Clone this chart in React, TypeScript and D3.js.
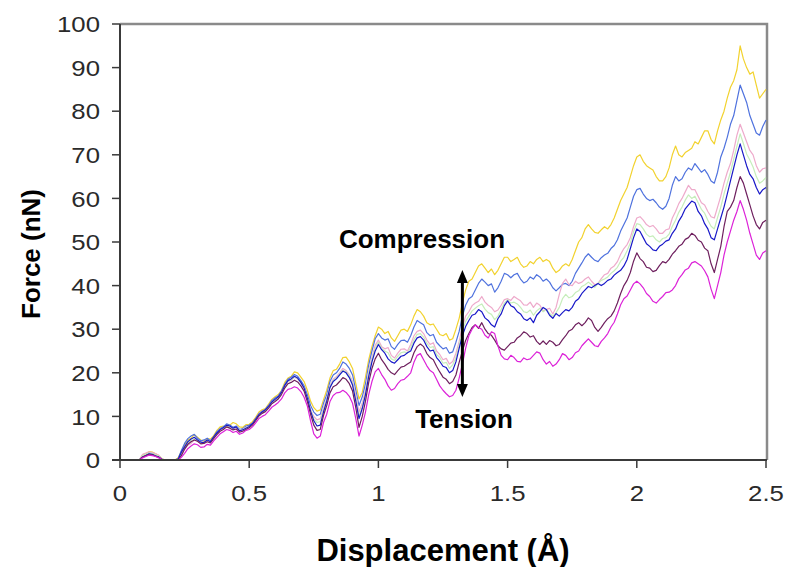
import React from "react";
import * as d3 from "d3";

// Displacement grid (Å): one sample every 0.0125 Å from 0 to 2.5
const displacement: number[] = d3.range(0, 201).map((i) => +(i * 0.0125).toFixed(4));

// Force (nN) for each run, sampled on the displacement grid
const forceGold = [
  0, 0, 0, 0, 0, 0, 0, 1.2, 1.5, 1.9, 1.8, 1.4, 1.0, 0.3, 0, 0, 0, 0, 0.5, 2.0,
  3.5, 4.6, 5.0, 5.8, 5.2, 4.6, 4.3, 4.9, 4.8, 5.6, 6.8, 7.6, 7.8, 7.5, 8.0, 8.6, 8.3, 7.6, 7.5, 8.1,
  8.2, 8.8, 9.8, 11.0, 11.5, 11.8, 12.8, 13.9, 14.5, 15.0, 16.0, 17.8, 18.8, 19.2, 20.2, 20.0, 19.0, 18.0, 16.0, 13.5,
  12.0, 11.2, 11.5, 13.8, 16.0, 18.8, 20.5, 20.8, 22.0, 23.5, 23.6, 22.5, 21.0, 17.5, 14.0, 15.5, 19.0, 23.0, 26.0, 28.5,
  30.5, 30.0, 29.0, 29.5, 28.0, 27.2, 28.5, 29.8, 30.0, 29.5, 31.0, 33.0, 34.5, 34.0, 33.0, 31.5, 31.0, 31.2, 30.0, 28.8,
  28.5, 29.0, 27.5, 27.8, 30.0, 32.5, 36.0, 39.0, 41.0, 41.5, 43.0, 44.5, 45.0, 44.0, 43.0, 43.8, 42.5, 43.5, 45.0, 46.5,
  46.5, 45.5, 46.0, 46.5, 45.0, 44.2, 44.5, 45.5, 45.0, 46.0, 46.5, 45.5, 46.0, 45.5, 44.0, 43.0, 43.5, 44.5, 45.0, 44.5,
  46.0, 48.0, 50.0, 51.0, 53.0, 54.0, 53.0, 52.2, 52.0, 52.8, 53.5, 53.0, 54.0, 55.5, 57.5, 59.5, 61.0, 62.5, 65.0, 67.5,
  69.5, 70.0, 68.5, 67.5, 67.0, 66.5, 65.0, 64.0, 64.0, 65.0, 67.0, 70.0, 72.0, 70.0, 69.5, 70.5, 71.0, 71.5, 73.0, 72.5,
  74.0, 75.5, 75.5, 73.5, 72.5, 75.5, 78.0, 80.0, 83.0, 85.5, 87.0, 89.5, 95.0, 92.0, 90.0, 88.5, 89.0, 86.0, 83.0, 84.0, 85.0,
];

const forceCornflower = [
  0, 0, 0, 0, 0, 0, 0, 0.9, 1.2, 1.6, 1.5, 1.1, 0.8, 0.2, 0, 0, 0, 0, 0.3, 2.2,
  3.8, 4.9, 5.5, 5.9, 5.0, 4.4, 4.6, 5.0, 4.4, 5.3, 6.5, 7.2, 7.6, 8.3, 8.0, 7.5, 7.8, 7.0, 7.2, 7.8,
  8.0, 8.4, 9.5, 10.6, 11.2, 11.6, 12.5, 13.6, 14.2, 14.7, 15.8, 17.3, 18.5, 19.0, 19.6, 19.2, 18.2, 17.0, 15.0, 12.5,
  11.0, 10.2, 10.5, 13.0, 15.0, 18.0, 19.5, 20.0, 21.0, 22.5, 22.0, 21.0, 19.5, 16.0, 12.5, 14.5, 17.5, 21.8, 25.0, 27.8,
  29.0, 28.0, 27.5, 27.8, 26.0, 25.4, 26.5, 27.4, 27.5, 27.0, 28.5, 30.5, 32.0, 31.5, 31.0, 29.2, 28.5, 28.8, 27.0, 26.2,
  25.5, 25.8, 24.5, 24.8, 27.0, 29.5, 33.0, 35.5, 37.0, 37.5, 39.0, 40.5, 41.5, 40.8, 40.0, 40.4, 38.5, 39.5, 41.0, 42.8,
  42.5, 41.8, 42.5, 42.8, 41.5, 40.6, 41.0, 42.0, 41.5, 42.5, 42.0, 41.0, 41.5, 40.8, 39.5, 38.8, 39.5, 40.3, 40.5, 40.0,
  41.0, 42.8, 44.0, 45.2, 46.5, 47.3, 46.5, 45.8, 45.5, 46.4, 47.0, 47.4, 48.5, 49.2, 50.5, 52.5, 54.0, 55.5, 58.0, 60.5,
  62.0, 62.3, 61.0, 60.0, 59.5, 59.8, 59.0, 58.0, 57.5, 58.2, 60.0, 63.0, 65.0, 64.0, 64.5, 66.0, 67.0, 66.5, 68.0, 67.0,
  66.0, 66.6, 65.5, 64.0, 63.5, 66.0, 69.5, 71.5, 74.0, 77.0, 79.0, 82.5, 86.0, 84.0, 82.0, 79.0, 77.0, 75.0, 74.5, 76.5, 78.0,
];

const forcePink = [
  0, 0, 0, 0, 0, 0, 0, 1.3, 1.6, 1.9, 1.7, 1.5, 1.1, 0.2, 0, 0, 0, 0, 0, 1.2,
  2.5, 3.4, 3.8, 4.6, 4.3, 3.8, 4.0, 4.4, 4.0, 5.1, 6.0, 6.9, 7.2, 7.9, 7.6, 7.2, 7.5, 6.8, 7.0, 7.5,
  7.6, 8.1, 9.2, 10.4, 11.0, 11.4, 12.2, 13.3, 13.8, 14.3, 15.4, 16.9, 18.0, 18.3, 19.0, 18.6, 17.6, 16.5, 14.0, 11.5,
  10.0, 9.2, 9.5, 12.0, 14.0, 17.0, 18.5, 19.1, 20.0, 21.0, 20.5, 19.6, 18.0, 14.8, 11.0, 13.0, 16.0, 20.5, 23.5, 26.3,
  27.5, 26.0, 25.5, 25.8, 24.0, 23.4, 24.5, 25.4, 25.5, 25.0, 26.5, 28.5, 29.5, 29.8, 29.0, 27.5, 26.5, 26.9, 25.0, 24.2,
  23.0, 23.3, 22.0, 22.6, 24.5, 27.2, 30.5, 33.0, 34.0, 35.4, 36.0, 36.4, 37.5, 36.2, 35.5, 35.0, 34.0, 34.4, 35.5, 36.8,
  37.0, 36.6, 37.5, 37.0, 36.5, 35.6, 35.5, 36.2, 35.0, 36.0, 35.5, 34.2, 34.5, 34.8, 33.5, 35.0, 38.0, 40.5, 41.5, 40.2,
  40.0, 41.0, 40.5, 40.8, 41.5, 42.0, 41.0, 40.2, 40.5, 41.6, 42.5, 42.8, 44.0, 44.5, 45.5, 47.2, 48.5, 49.4, 51.0, 53.5,
  55.5, 55.8, 55.0, 54.0, 53.5, 53.8, 53.0, 52.0, 52.0, 52.8, 53.0, 55.5, 57.0, 58.8, 60.0, 61.5, 63.0, 62.0, 62.0, 60.5,
  59.0, 58.5, 57.0, 55.8, 55.5, 58.0, 60.5, 63.5, 66.0, 68.0, 71.0, 74.5, 77.0, 75.0, 73.0, 71.0, 70.0, 67.5, 66.0, 66.8, 67.0,
];

const forceMint = [
  0, 0, 0, 0, 0, 0, 0, 1.0, 1.3, 1.6, 1.5, 1.2, 0.9, 0.2, 0, 0, 0, 0, 0, 1.4,
  2.8, 3.9, 4.4, 4.8, 4.5, 4.0, 4.0, 4.5, 4.1, 5.2, 6.1, 7.0, 7.3, 7.8, 7.7, 7.3, 7.5, 6.9, 7.0, 7.4,
  7.6, 8.2, 9.2, 10.3, 10.9, 11.3, 12.2, 13.2, 13.8, 14.4, 15.4, 17.0, 18.1, 18.4, 19.1, 18.7, 17.7, 16.6, 14.1, 11.4,
  9.4, 8.6, 8.8, 11.6, 13.8, 16.8, 18.2, 18.8, 19.7, 20.6, 20.2, 19.3, 17.6, 14.0, 10.0, 12.2, 15.5, 20.0, 23.0, 25.6,
  27.0, 25.6, 25.0, 24.6, 23.2, 22.8, 23.8, 24.6, 24.8, 24.5, 25.8, 27.6, 28.8, 29.0, 28.2, 26.8, 25.8, 26.0, 24.2, 23.5,
  22.2, 22.4, 21.0, 21.8, 23.5, 26.4, 29.5, 31.8, 33.0, 34.2, 34.8, 35.4, 35.8, 34.6, 33.8, 33.4, 32.2, 33.0, 34.5, 36.0,
  36.8, 36.0, 36.2, 35.8, 35.0, 34.0, 33.8, 34.4, 33.2, 34.2, 34.8, 34.0, 34.5, 33.6, 33.0, 33.8, 35.0, 37.0, 38.0, 37.2,
  37.5, 38.4, 38.8, 39.8, 40.2, 40.8, 40.2, 39.6, 40.5, 41.2, 41.5, 42.0, 42.8, 43.4, 44.2, 45.6, 46.5, 48.0, 49.8, 52.4,
  54.2, 54.0, 53.0, 51.8, 51.2, 51.4, 50.5, 50.0, 50.8, 51.0, 51.8, 53.6, 55.0, 56.8, 58.0, 59.6, 60.8, 60.0, 60.5, 59.0,
  57.5, 56.6, 55.0, 53.6, 53.0, 55.6, 58.0, 61.0, 63.5, 66.0, 69.0, 72.0, 74.8, 72.6, 70.2, 68.8, 67.2, 65.0, 63.5, 64.0, 64.8,
];

const forceBlue = [
  0, 0, 0, 0, 0, 0, 0, 0.7, 1.0, 1.4, 1.3, 0.9, 0.7, 0.1, 0, 0, 0, 0, 0.2, 1.8,
  3.0, 4.2, 4.8, 5.2, 4.6, 4.1, 4.0, 4.6, 4.2, 5.3, 6.2, 7.0, 7.4, 8.0, 7.8, 7.3, 7.6, 6.7, 6.9, 7.3,
  7.7, 8.3, 9.3, 10.4, 11.0, 11.5, 12.3, 13.3, 13.9, 14.5, 15.5, 17.1, 18.2, 18.6, 19.2, 18.8, 17.8, 16.5, 14.2, 11.2,
  9.0, 7.8, 8.0, 11.0, 13.5, 16.6, 18.0, 18.6, 19.5, 20.4, 20.0, 18.9, 17.2, 13.5, 9.5, 11.8, 15.0, 19.2, 22.5, 25.0,
  26.5, 25.3, 24.5, 23.2, 22.5, 22.2, 23.0, 23.8, 24.0, 24.6, 25.0, 26.8, 28.0, 28.3, 27.5, 26.0, 25.0, 25.2, 23.5, 22.6,
  21.5, 21.2, 20.0, 20.5, 22.5, 25.6, 28.5, 30.6, 32.0, 33.2, 33.5, 34.5, 34.0, 32.6, 32.0, 31.0, 30.5, 32.4, 33.5, 35.4,
  36.5, 35.4, 35.0, 34.0, 33.5, 32.4, 32.0, 32.6, 31.5, 33.2, 34.0, 35.0, 34.5, 33.2, 32.5, 33.6, 33.0, 33.8, 34.5, 34.2,
  35.0, 36.4, 37.0, 38.2, 39.0, 39.8, 39.5, 40.0, 40.5, 40.0, 40.5, 41.2, 41.5, 42.4, 43.0, 43.5, 44.5, 46.0, 48.5, 51.0,
  53.0, 52.4, 51.0, 49.6, 49.0, 48.2, 48.0, 49.0, 49.5, 50.2, 50.5, 52.0, 53.0, 54.8, 56.0, 57.6, 58.5, 59.4, 59.0, 57.0,
  56.0, 54.2, 53.0, 51.0, 50.5, 53.0, 55.5, 58.0, 61.0, 64.0, 67.0, 70.0, 72.5, 70.0, 67.5, 65.5, 64.5, 62.5, 61.0, 62.0, 62.5,
];

const forcePlum = [
  0, 0, 0, 0, 0, 0, 0, 0.7, 1.0, 1.3, 1.2, 0.9, 0.6, 0.1, 0, 0, 0, 0, 0, 1.0,
  2.5, 3.6, 4.2, 4.6, 4.3, 3.7, 3.8, 4.2, 3.9, 4.9, 5.8, 6.6, 7.0, 7.6, 7.3, 6.9, 7.1, 6.4, 6.6, 7.0,
  7.4, 8.0, 9.0, 10.1, 10.7, 11.1, 11.9, 12.9, 13.4, 14.0, 15.0, 16.5, 17.5, 17.8, 18.3, 17.9, 17.0, 15.8, 13.4, 10.5,
  8.0, 6.8, 7.0, 10.2, 12.5, 15.4, 16.8, 17.2, 18.0, 18.9, 18.5, 17.5, 15.8, 12.0, 7.5, 10.0, 13.5, 17.8, 21.0, 23.2,
  24.5, 23.0, 22.0, 20.8, 20.0, 19.6, 20.5, 21.3, 21.5, 22.0, 22.5, 24.6, 26.0, 26.6, 26.0, 24.4, 23.5, 23.0, 21.5, 20.2,
  19.0, 18.5, 17.5, 18.0, 19.5, 22.4, 25.0, 27.4, 29.0, 30.4, 31.0, 30.2, 31.5, 30.0, 29.0, 28.6, 27.5, 26.2, 25.5, 25.2,
  26.0, 26.8, 27.0, 28.0, 28.5, 29.4, 29.0, 28.2, 28.5, 27.2, 26.5, 27.3, 26.5, 27.4, 27.0, 26.2, 26.5, 27.6, 28.5, 29.6,
  30.0, 31.0, 31.5, 30.8, 31.5, 32.6, 32.0, 30.4, 29.5, 30.4, 31.5, 32.4, 33.0, 34.2, 36.0, 38.2, 40.0, 41.2, 43.0, 45.6,
  47.5, 46.2, 45.5, 44.2, 44.0, 43.2, 43.5, 44.6, 45.5, 45.2, 46.0, 47.2, 48.0, 49.0, 49.5, 50.6, 51.0, 52.0, 51.5, 50.4,
  50.0, 48.6, 48.0, 45.0, 43.0, 46.0, 49.0, 53.5, 57.0, 58.0, 59.5, 62.5, 65.0, 63.5, 61.0, 58.5, 56.0, 54.0, 53.0, 54.5, 55.0,
];

const forceMagenta = [
  0, 0, 0, 0, 0, 0, 0, 0.5, 0.8, 1.1, 1.0, 0.8, 0.5, 0.1, 0, 0, 0, 0, 0, 0.6,
  1.5, 2.6, 3.2, 3.7, 3.5, 2.9, 3.0, 3.6, 3.4, 4.4, 5.2, 6.0, 6.5, 7.0, 6.8, 6.3, 6.6, 5.9, 6.2, 6.8,
  7.0, 7.6, 8.5, 9.5, 10.0, 10.4, 11.2, 12.1, 12.6, 13.2, 14.0, 15.4, 16.2, 16.4, 16.8, 16.5, 15.7, 14.4, 12.4, 9.0,
  6.0, 5.0, 5.5, 8.6, 10.5, 13.4, 14.8, 15.4, 15.5, 16.0, 15.5, 14.6, 13.0, 9.5, 5.5, 8.0, 11.0, 15.0, 18.0, 20.2,
  21.0, 19.6, 18.5, 17.0, 16.0, 16.4, 17.5, 18.3, 18.5, 19.2, 20.0, 22.4, 24.0, 24.4, 23.0, 21.6, 20.5, 20.0, 18.5, 17.0,
  16.0, 15.2, 14.5, 14.8, 16.0, 18.8, 22.0, 25.6, 28.5, 30.0, 31.0, 30.4, 30.0, 28.6, 28.0, 29.4, 29.0, 26.2, 24.0, 23.2,
  23.0, 24.0, 23.5, 22.6, 22.5, 23.4, 23.0, 23.2, 24.0, 24.8, 24.5, 23.0, 22.0, 22.6, 21.5, 22.0, 23.0, 24.4, 24.0, 23.0,
  23.5, 24.6, 25.0, 26.2, 27.0, 27.8, 27.0, 26.2, 26.0, 27.2, 28.0, 29.0, 30.5, 31.6, 33.5, 35.6, 37.0, 37.6, 39.0, 40.4,
  41.0, 40.4, 39.5, 38.2, 37.5, 36.4, 36.0, 36.8, 37.5, 38.4, 38.5, 39.0, 40.0, 41.6, 42.5, 43.6, 44.0, 45.2, 45.5, 45.0,
  44.5, 43.4, 42.0, 39.2, 37.0, 40.0, 43.0, 47.0, 50.0, 52.5, 55.0, 57.0, 59.5, 57.5, 55.0, 52.0, 49.5, 47.0, 46.0, 47.5, 48.0,
];

const seriesValues = [
  forceGold,
  forceCornflower,
  forcePink,
  forceMint,
  forceBlue,
  forcePlum,
  forceMagenta,
];
const seriesColors = [
  "#f2d22e",
  "#4f72de",
  "#eeaacb",
  "#c6eebb",
  "#1818c8",
  "#6e1f5e",
  "#dc22d8",
];

const xTicks = [0, 0.5, 1, 1.5, 2, 2.5];
const xTickLabels = ["0", "0.5", "1", "1.5", "2", "2.5"];
const yTicks = [0, 10, 20, 30, 40, 50, 60, 70, 80, 90, 100];

const W = 788;
const H = 567;
const left = 120;
const right = 767;
const top = 24;
const bottom = 460;

export default function App() {
  const x = d3.scaleLinear().domain([0, 2.5]).range([left, right - 1]);
  const y = d3.scaleLinear().domain([0, 100]).range([bottom, top]);

  const line = d3
    .line<number>()
    .defined((_, i) => i < displacement.length)
    .x((_, i) => x(displacement[i]))
    .y((d) => y(d));

  const font = "Arial, 'Liberation Sans', Helvetica, sans-serif";
  const arrowX = x(1.325);
  const arrowTop = 270;
  const arrowBottom = 397;

  return (
    <svg
      width={W}
      height={H}
      viewBox={`0 0 ${W} ${H}`}
      style={{ position: "absolute", left: 0, top: 0, background: "#fff" }}
      fontFamily={font}
    >
      <rect x={0} y={0} width={W} height={H} fill="#fff" />

      {/* plot frame: gray top and right edges */}
      <path
        d={`M${left},${top}H${right}V${bottom}`}
        fill="none"
        stroke="#8a8a8a"
        strokeWidth={2.5}
      />

      {/* force curves */}
      <g fill="none" strokeWidth={1.2} strokeLinejoin="round">
        {seriesValues.map((vals, si) => (
          <path key={si} d={line(vals) ?? ""} stroke={seriesColors[si]} />
        ))}
      </g>

      {/* y axis */}
      <line x1={left} x2={left} y1={top} y2={bottom} stroke="#3a3a3a" strokeWidth={2} />
      {yTicks.map((t) => (
        <g key={t}>
          <line x1={left - 8} x2={left} y1={y(t)} y2={y(t)} stroke="#3a3a3a" strokeWidth={1.5} />
          <text
            transform={`translate(100,${y(t)}) scale(1.12,1)`}
            dy="0.36em"
            textAnchor="end"
            fontSize={23}
            fill="#2a2a2a"
          >
            {t}
          </text>
        </g>
      ))}

      {/* x axis */}
      <line x1={left - 8} x2={right} y1={bottom} y2={bottom} stroke="#3a3a3a" strokeWidth={2} />
      {xTicks.map((t, i) => (
        <g key={t}>
          <line x1={x(t)} x2={x(t)} y1={bottom} y2={bottom + 8} stroke="#3a3a3a" strokeWidth={1.5} />
          <text
            transform={`translate(${x(t)},501) scale(1.12,1)`}
            textAnchor="middle"
            fontSize={23}
            fill="#2a2a2a"
          >
            {xTickLabels[i]}
          </text>
        </g>
      ))}

      {/* axis titles */}
      <text
        x={443}
        y={561}
        textAnchor="middle"
        fontSize={31}
        fontWeight="bold"
        fill="#000"
      >
        Displacement (Å)
      </text>
      <text
        transform="translate(40,254) rotate(-90)"
        textAnchor="middle"
        fontSize={26}
        fontWeight="bold"
        fill="#000"
      >
        Force (nN)
      </text>

      {/* compression / tension annotation */}
      <line
        x1={arrowX}
        x2={arrowX}
        y1={arrowTop + 10}
        y2={arrowBottom - 10}
        stroke="#000"
        strokeWidth={3}
      />
      <path
        d={`M${arrowX},${arrowTop}L${arrowX - 5.5},${arrowTop + 13}L${arrowX + 5.5},${arrowTop + 13}Z`}
        fill="#000"
      />
      <path
        d={`M${arrowX},${arrowBottom}L${arrowX - 5.5},${arrowBottom - 13}L${arrowX + 5.5},${arrowBottom - 13}Z`}
        fill="#000"
      />
      <text x={422} y={248} textAnchor="middle" fontSize={26} fontWeight="bold" fill="#000">
        Compression
      </text>
      <text x={464} y={428} textAnchor="middle" fontSize={26} fontWeight="bold" fill="#000">
        Tension
      </text>
    </svg>
  );
}
